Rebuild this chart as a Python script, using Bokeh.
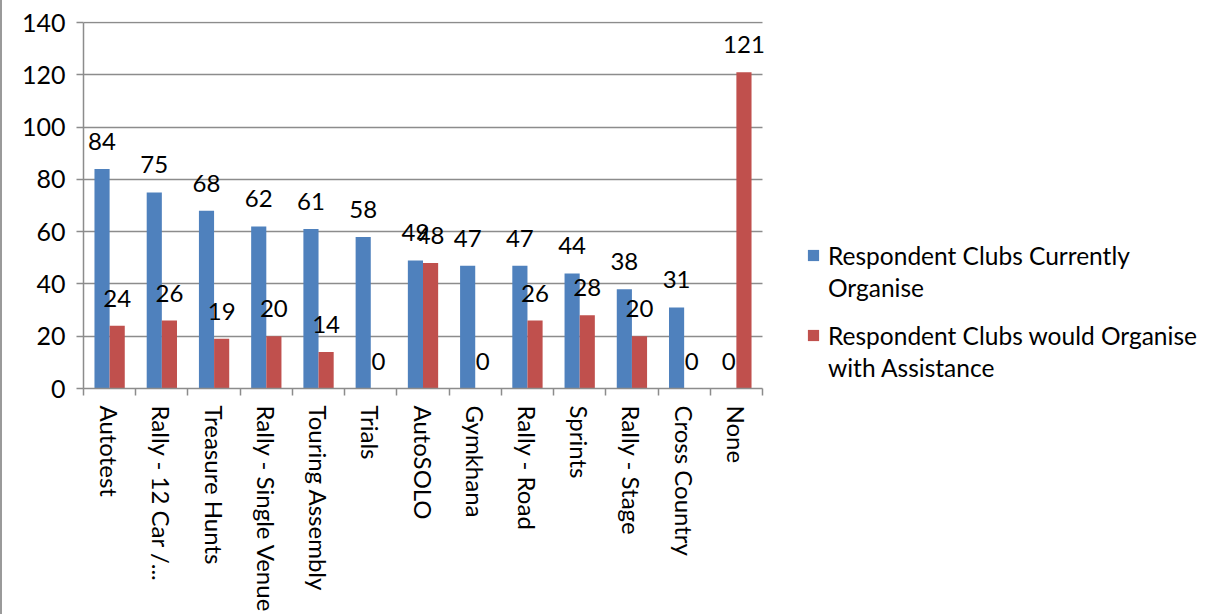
from math import pi
from bokeh.plotting import figure
from bokeh.models import (ColumnDataSource, FixedTicker, LabelSet, Legend, LegendItem, Range1d)
from bokeh.core.properties import value
from bokeh.embed import file_html
from bokeh.resources import INLINE

categories = ["Autotest", "Rally - 12 Car /...", "Treasure Hunts", "Rally - Single Venue",
              "Touring Assembly", "Trials", "AutoSOLO", "Gymkhana", "Rally - Road",
              "Sprints", "Rally - Stage", "Cross Country", "None"]
currently = [84, 75, 68, 62, 61, 58, 49, 47, 47, 44, 38, 31, 0]
with_assistance = [24, 26, 19, 20, 14, 0, 48, 0, 26, 28, 20, 0, 121]
y_ticks = [0, 20, 40, 60, 80, 100, 120, 140]
legend_lines_1 = ["Respondent Clubs Currently", "Organise"]
legend_lines_2 = ["Respondent Clubs would Organise", "with Assistance"]

BLUE = "#4F81BD"
RED = "#C0504D"
GRID = "#8C8C8C"
FONT = "Lato"
BW = 0.29
FRAME_W = 1122   # whole drawing area (chart + legend space)
CHART_W = 679    # width used by the category axis

n = len(categories)
centers = [i + 0.5 for i in range(n)]
src = ColumnDataSource(dict(
    xb=[c - BW / 2 for c in centers],
    xr=[c + BW / 2 for c in centers],
    cur=currently,
    ast=with_assistance,
    cur_t=[str(v) for v in currently],
    ast_t=[str(v) for v in with_assistance],
))

p = figure(frame_width=FRAME_W, frame_height=367, output_backend="svg", toolbar_location=None,
           x_range=Range1d(0, n * FRAME_W / CHART_W), y_range=Range1d(0, 140.4),
           min_border_left=81, min_border_right=0, min_border_top=21, min_border_bottom=224,
           styles={"border-left": "2px solid #9a9a9a"})
p.outline_line_color = None
p.xgrid.visible = False
p.ygrid.ticker = FixedTicker(ticks=y_ticks)
p.ygrid.grid_line_color = GRID
p.ygrid.grid_line_width = 1.5
p.ygrid.bounds = (0, 140)
p.ygrid.cross_bounds = (0, n)

p.yaxis.ticker = FixedTicker(ticks=y_ticks)
p.yaxis.bounds = (0, 140)
p.yaxis.axis_line_color = GRID
p.yaxis.axis_line_width = 1.5
p.yaxis.major_tick_line_color = GRID
p.yaxis.major_tick_line_width = 1.5
p.yaxis.major_tick_out = 7
p.yaxis.major_tick_in = 0
p.yaxis.minor_tick_line_color = None
p.yaxis.major_label_text_font = FONT
p.yaxis.major_label_text_font_size = "25px"
p.yaxis.major_label_text_color = "black"
p.yaxis.major_label_standoff = 11

# category labels at centres (major), boundary tick marks (minor)
p.xaxis.bounds = (0, n)
p.xaxis.ticker = FixedTicker(ticks=centers, minor_ticks=list(range(n + 1)))
p.xaxis.major_label_overrides = {c: lab for c, lab in zip(centers, categories)}
p.xaxis.major_label_orientation = -pi / 2
p.xaxis.major_label_text_font = FONT
p.xaxis.major_label_text_font_size = "24px"
p.xaxis.major_label_text_color = "black"
p.xaxis.major_label_standoff = 10
p.xaxis.axis_line_color = GRID
p.xaxis.axis_line_width = 1.5
p.xaxis.major_tick_line_color = None
p.xaxis.major_tick_out = 0
p.xaxis.major_tick_in = 0
p.xaxis.minor_tick_line_color = GRID
p.xaxis.minor_tick_line_width = 1.5
p.xaxis.minor_tick_out = 7
p.xaxis.minor_tick_in = 0

r1 = p.vbar(x="xb", top="cur", width=BW, source=src, fill_color=BLUE, line_color=None)
r2 = p.vbar(x="xr", top="ast", width=BW, source=src, fill_color=RED, line_color=None)
# swatch-less renderer for the legend's continuation lines
blank = p.vbar(x=[], top=[], width=BW, fill_alpha=0, line_alpha=0)

common = dict(source=src, text_font=value(FONT), text_font_size=value("24px"), text_color="black",
              text_align="center", text_baseline="alphabetic", y_offset=19)
p.add_layout(LabelSet(x="xb", y="cur", text="cur_t", **common))
p.add_layout(LabelSet(x="xr", y="ast", text="ast_t", **common))

leg_style = dict(orientation="vertical", label_text_font=FONT, label_text_font_size="24.5px",
                 label_text_color="black", glyph_width=14, glyph_height=14, label_standoff=8,
                 label_height=32, spacing=0, padding=0, margin=0,
                 border_line_color=None, background_fill_alpha=0)
leg1 = Legend(items=[LegendItem(label=legend_lines_1[0], renderers=[r1]),
                     LegendItem(label=legend_lines_1[1], renderers=[blank])],
              location=(723, 85), **leg_style)
leg2 = Legend(items=[LegendItem(label=legend_lines_2[0], renderers=[r2]),
                     LegendItem(label=legend_lines_2[1], renderers=[blank])],
              location=(723, 5), **leg_style)
p.add_layout(leg1, "center")
p.add_layout(leg2, "center")

open("out.html", "w").write(file_html(p, INLINE))
